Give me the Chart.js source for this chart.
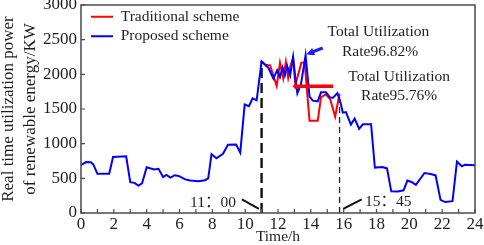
<!DOCTYPE html>
<html>
<head>
<meta charset="utf-8">
<script src="https://cdn.jsdelivr.net/npm/chart.js@4.4.1/dist/chart.umd.min.js"></script>
<style>
  html, body { margin: 0; padding: 0; background: #ffffff; }
  #wrap { width: 484px; height: 245px; }
</style>
</head>
<body>
<div id="wrap"><canvas id="c" width="484" height="245"></canvas></div>
<script>
// ---- data (hours, kW) ----
const proposedHours = [0, 0.3, 0.6, 0.75, 1.0, 1.72, 1.95, 2.75, 3.0, 3.25, 3.5, 3.72, 4.0, 4.45, 4.72, 5.0, 5.2, 5.45, 5.7, 5.95,
  6.35, 6.65, 7.15, 7.55, 7.75, 7.95, 8.25, 8.65, 8.95, 9.45, 9.7, 9.97, 10.23, 10.45, 10.7, 11.0, 11.42, 11.72, 11.95, 12.12,
  12.28, 12.42, 12.56, 12.74, 12.92, 13.06, 13.18, 13.4, 13.68, 13.92, 14.12, 14.42, 14.62, 14.92, 15.14, 15.34, 15.62, 15.8, 15.95, 16.14,
  16.44, 16.67, 16.94, 17.17, 17.67, 17.9, 18.35, 18.64, 18.9, 19.3, 19.65, 19.88, 20.13, 20.4, 20.92, 21.3, 21.6, 21.9, 22.18, 22.63,
  22.9, 23.2, 23.4, 24];
const proposedValues = [689, 735, 732, 700, 565, 567, 807, 818, 444, 435, 396, 428, 660, 627, 637, 518, 548, 510, 545, 535,
  485, 468, 458, 473, 500, 848, 790, 855, 985, 987, 870, 1565, 1540, 1655, 1625, 2187, 2092, 1940, 2060, 1960,
  2100, 1985, 2120, 1985, 2250, 1930, 1725, 1860, 2275, 1680, 1620, 1611, 1740, 1740, 1670, 1660, 1730, 1600, 1447, 1455,
  1275, 1360, 1213, 1280, 1280, 655, 662, 643, 312, 310, 327, 468, 448, 405, 577, 562, 542, 190, 158, 170,
  740, 674, 697, 689];
const traditionalHours = [11.0, 11.22, 11.52, 11.92, 12.12, 12.32, 12.48, 12.62, 12.78, 12.92, 13.06, 13.42, 13.62, 13.92, 14.42, 14.62, 14.92, 15.18, 15.48, 15.75];
const traditionalValues = [2187, 2140, 2130, 1830, 2165, 1940, 2180, 1950, 2140, 2230, 1850, 2165, 2175, 1330, 1330, 1670, 1710, 1640, 1390, 1720];
const xTickValues = [0, 2, 4, 6, 8, 10, 12, 14, 16, 18, 20, 22, 24];
const yTickValues = [0, 500, 1000, 1500, 2000, 2500, 3000];
const seriesNames = ['Traditional scheme', 'Proposed scheme'];
const windowStart = 11.0, windowStartTop = 2187, windowStartLabel = '11：00';
const windowEnd = 15.75, windowEndTop = 1700, windowEndLabel = '15：45';
const rateProposed = ['Total Utilization', 'Rate96.82%'];
const rateTraditional = ['Total Utilization', 'Rate95.76%'];

const SERIF = '"Liberation Serif", "Times New Roman", "Noto Sans CJK SC", serif';
const TEXT = '#1e1e1e';

const toPts = (hs, vs) => hs.map((h, i) => ({x: h, y: vs[i]}));

function seg(ctx, x1, y1, x2, y2, color, w, dash) {
  ctx.save();
  ctx.strokeStyle = color; ctx.lineWidth = w; ctx.setLineDash(dash || []);
  ctx.beginPath(); ctx.moveTo(x1, y1); ctx.lineTo(x2, y2); ctx.stroke();
  ctx.restore();
}
function head(ctx, fx, fy, tx, ty, len, half, color) {
  const a = Math.atan2(ty - fy, tx - fx);
  ctx.save();
  ctx.fillStyle = color;
  ctx.beginPath();
  ctx.moveTo(tx, ty);
  ctx.lineTo(tx - len * Math.cos(a) + half * Math.sin(a), ty - len * Math.sin(a) - half * Math.cos(a));
  ctx.lineTo(tx - len * Math.cos(a) - half * Math.sin(a), ty - len * Math.sin(a) + half * Math.cos(a));
  ctx.closePath(); ctx.fill();
  ctx.restore();
}

const annot = {
  id: 'annot',
  afterLayout(chart) {
    const l = chart.legend;
    if (l) { l.left += 6; l.top += 5; }
  },
  beforeDatasetsDraw(chart) {
    const {ctx, scales: {x, y}} = chart;
    seg(ctx, x.getPixelForValue(windowStart), y.getPixelForValue(0), x.getPixelForValue(windowStart), y.getPixelForValue(windowStartTop), '#111', 2.4, [10, 5]);
    seg(ctx, x.getPixelForValue(windowEnd), y.getPixelForValue(0), x.getPixelForValue(windowEnd), y.getPixelForValue(windowEndTop), '#222', 1.3, [6, 4]);
  },
  afterDatasetsDraw(chart) {
    const {ctx, scales: {x, y}} = chart;
    const X = v => x.getPixelForValue(v), Y = v => y.getPixelForValue(v);
    // red bar with small arrow head
    seg(ctx, X(13.0), Y(1827), X(15.36), Y(1827), '#ff0000', 3.5);
    head(ctx, X(13.5), Y(1827), X(12.88), Y(1827), 4, 3.2, '#ff0000');
    // blue arrow
    seg(ctx, X(14.72), Y(2380), X(13.95), Y(2310), '#1a1aff', 3);
    head(ctx, X(14.72), Y(2380), X(13.72), Y(2285), 8, 4, '#1a1aff');
    // pointer lines for time labels
    seg(ctx, X(9.8), Y(195), X(10.84), Y(60), '#111', 2);
    seg(ctx, X(15.97), Y(60), X(17.1), Y(195), '#111', 2);
    ctx.save();
    ctx.fillStyle = TEXT;
    ctx.font = '15.5px ' + SERIF;
    ctx.textAlign = 'center'; ctx.textBaseline = 'middle';
    ctx.fillText(rateProposed[0], X(18.12), Y(2615));
    ctx.fillText(rateProposed[1], X(18.22), Y(2327));
    ctx.fillText(rateTraditional[0], X(19.38), Y(1960));
    ctx.fillText(rateTraditional[1], X(19.38), Y(1693));
    ctx.fillText(windowStartLabel, X(8.04), Y(144));
    ctx.fillText(windowEndLabel, X(18.72), Y(166));
    ctx.restore();
  },
  afterDraw(chart) {
    const {ctx, chartArea: a, scales: {x, y}} = chart;
    ctx.save();
    ctx.strokeStyle = '#4a4a4a'; ctx.lineWidth = 1.5;
    ctx.strokeRect(a.left, a.top, a.right - a.left, a.bottom - a.top);
    ctx.lineWidth = 1.2;
    ctx.beginPath();
    for (let h = 0; h <= 24; h++) {
      const px = x.getPixelForValue(h);
      ctx.moveTo(px, a.bottom); ctx.lineTo(px, a.bottom - 4);
    }
    yTickValues.forEach(v => {
      const py = y.getPixelForValue(v);
      ctx.moveTo(a.left, py); ctx.lineTo(a.left + 4, py);
    });
    ctx.stroke();
    ctx.restore();
  }
};

new Chart(document.getElementById('c'), {
  type: 'line',
  data: {
    datasets: [
      { label: seriesNames[0], data: toPts(traditionalHours, traditionalValues), borderColor: '#ff0000', backgroundColor: '#ff0000', borderWidth: 2, pointRadius: 0, tension: 0, order: 1 },
      { label: seriesNames[1], data: toPts(proposedHours, proposedValues), borderColor: '#0000ff', backgroundColor: '#0000ff', borderWidth: 2, pointRadius: 0, tension: 0, order: 0 }
    ]
  },
  options: {
    responsive: false,
    animation: false,
    devicePixelRatio: 1,
    layout: { padding: { top: 5, right: 9, bottom: 0, left: 0 } },
    plugins: {
      tooltip: { enabled: false },
      legend: {
        position: 'chartArea',
        align: 'start',
        labels: {
          usePointStyle: true, pointStyle: 'line', pointStyleWidth: 22,
          padding: 4, color: TEXT,
          font: { family: SERIF, size: 15.5 },
          sort: (a, b) => a.datasetIndex - b.datasetIndex
        }
      }
    },
    scales: {
      x: {
        type: 'linear', min: 0, max: 24,
        afterBuildTicks: s => { s.ticks = xTickValues.map(v => ({value: v})); },
        ticks: { padding: 1, color: TEXT, font: { family: SERIF, size: 17 }, maxRotation: 0, autoSkip: false, callback: v => String(v) },
        grid: { display: false, drawTicks: false },
        border: { display: false },
        title: { display: true, text: 'Time/h', color: TEXT, font: { family: SERIF, size: 15.5, lineHeight: 1.0 }, padding: 0 },
        afterFit: s => { s.height = 32; s.paddingLeft = 0; s.paddingRight = 0; }
      },
      y: {
        min: 0, max: 3000,
        afterBuildTicks: s => { s.ticks = yTickValues.map(v => ({value: v})); },
        ticks: { padding: 4, color: TEXT, font: { family: SERIF, size: 17 }, callback: v => String(v) },
        grid: { display: false, drawTicks: false },
        border: { display: false },
        title: { display: true, text: ['Real time utilization power', 'of renewable energy/KW'], color: TEXT, font: { family: SERIF, size: 17, lineHeight: 1.32 }, padding: { top: -3, bottom: 0 } },
        afterFit: s => { s.width = 81; s.paddingTop = 0; s.paddingBottom = 0; }
      }
    }
  },
  plugins: [annot]
});
</script>
</body>
</html>
